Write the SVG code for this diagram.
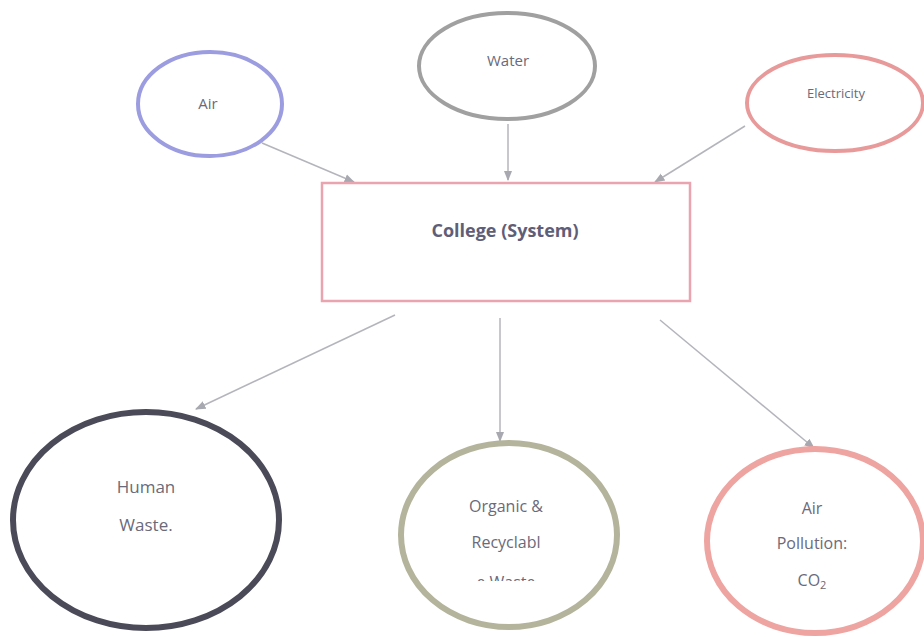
<svg xmlns="http://www.w3.org/2000/svg" width="924" height="637" viewBox="0 0 924 637">
<defs>
<marker id="ah" viewBox="0 0 10 10" refX="9" refY="5" markerWidth="7" markerHeight="7" orient="auto-start-reverse">
<path d="M0,1 L10,5 L0,9 z" fill="#a8a8b0"/>
</marker>
<clipPath id="orgclip"><rect x="0" y="0" width="924" height="581"/></clipPath>
</defs>
<style>
.lbl{font-family:"Open Sans","Liberation Sans",sans-serif;fill:#6a6a7a;text-anchor:middle}
.conn{stroke:#b4b4bc;stroke-width:1.5;fill:none;marker-end:url(#ah)}
</style>
<rect width="924" height="637" fill="#ffffff"/>
<g id="connectors">
<line class="conn" x1="262" y1="143" x2="354" y2="182"/>
<line class="conn" x1="508" y1="124" x2="508" y2="180"/>
<line class="conn" x1="745" y1="126" x2="655" y2="182"/>
<line class="conn" x1="395" y1="315" x2="196" y2="409"/>
<line class="conn" x1="500" y1="318" x2="500" y2="441"/>
<line class="conn" x1="660" y1="320" x2="814" y2="448"/>
</g>
<g id="air">
<ellipse cx="210" cy="104" rx="72" ry="52" fill="#fff" stroke="#9c9ce0" stroke-width="4"/>
<text class="lbl" x="208" y="109" font-size="15">Air</text>
</g>
<g id="water">
<ellipse cx="507" cy="66" rx="88" ry="53" fill="#fff" stroke="#a0a0a0" stroke-width="4"/>
<text class="lbl" x="508" y="66" font-size="15">Water</text>
</g>
<g id="electricity">
<ellipse cx="835" cy="103" rx="88" ry="48" fill="#fff" stroke="#e89a9a" stroke-width="4"/>
<text class="lbl" x="836" y="98" font-size="13">Electricity</text>
</g>
<g id="college">
<rect x="322" y="183" width="368" height="118" fill="#fff" stroke="#e9a4b0" stroke-width="2.5"/>
<text class="lbl" x="505" y="237" font-size="18" font-weight="bold" style="fill:#5e5e78">College (System)</text>
</g>
<g id="human-waste">
<ellipse cx="146" cy="520" rx="133" ry="108" fill="#fff" stroke="#4a4a58" stroke-width="6"/>
<text class="lbl" x="146" y="493" font-size="17">Human</text>
<text class="lbl" x="146" y="531" font-size="17">Waste.</text>
</g>
<g id="organic-waste">
<ellipse cx="509" cy="535" rx="108" ry="92" fill="#fff" stroke="#b4b49c" stroke-width="6"/>
<text class="lbl" x="506" y="512" font-size="16">Organic &amp;</text>
<text class="lbl" x="506" y="548" font-size="16">Recyclabl</text>
<g clip-path="url(#orgclip)"><text class="lbl" x="506" y="588" font-size="16">e Waste</text></g>
</g>
<g id="air-pollution">
<ellipse cx="815" cy="541" rx="108" ry="92" fill="#fff" stroke="#eea4a0" stroke-width="6"/>
<text class="lbl" x="812" y="514" font-size="16">Air</text>
<text class="lbl" x="812" y="549" font-size="16">Pollution:</text>
<text class="lbl" x="812" y="586" font-size="16">CO<tspan font-size="11" dy="3">2</tspan></text>
</g>
</svg>
